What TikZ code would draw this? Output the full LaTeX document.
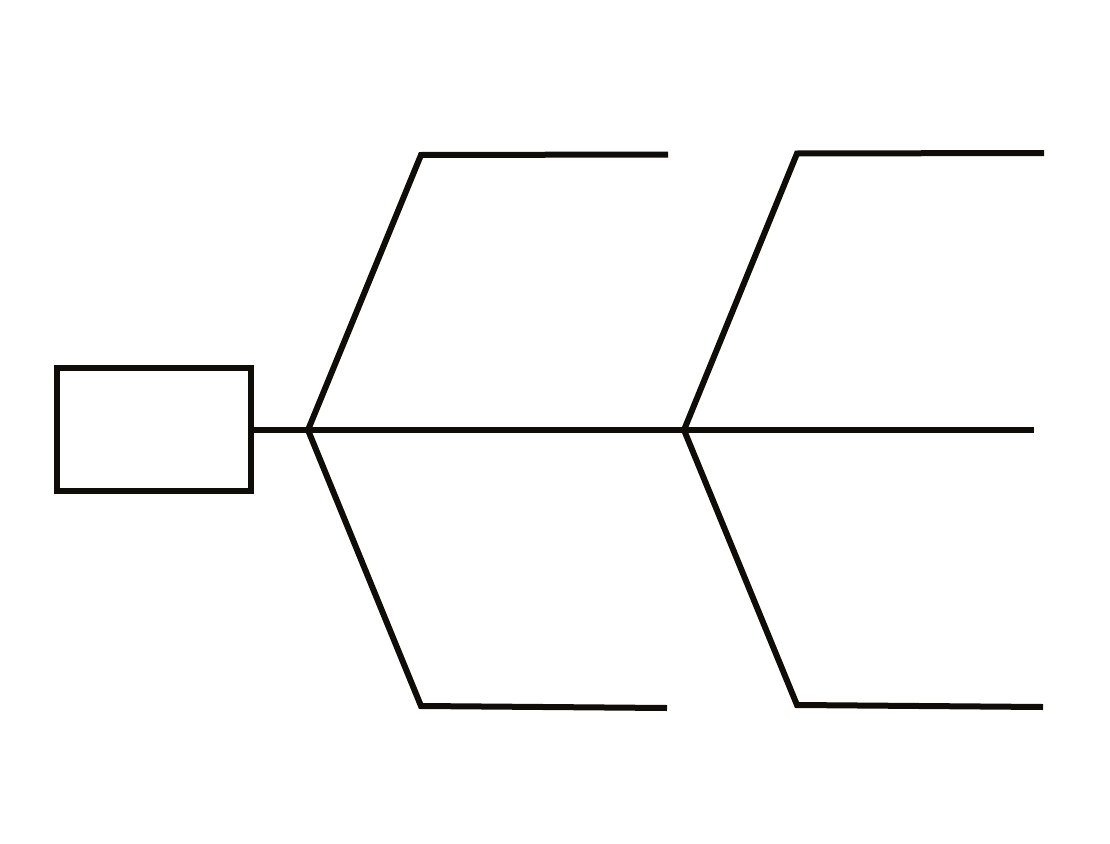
\documentclass[tikz,border=0pt]{standalone}
\definecolor{ink}{RGB}{16,12,8}
\begin{document}
\begin{tikzpicture}[x=1pt,y=-1pt,
  bone/.style={draw=ink,line width=6pt,line join=miter},
  headbox/.style={draw=ink,line width=6.5pt,minimum width=194pt,minimum height=123pt,inner sep=0pt,outer sep=0pt}]
\useasboundingbox (0,0) rectangle (1110,843);
\node[headbox] (head) at (154,429.5) {};
\coordinate (j1) at (308,430);
\coordinate (j2) at (684,430);
\coordinate (tail) at (1034,430);
\coordinate (u1) at (421,155);
\coordinate (u1e) at (668,154.5);
\coordinate (l1) at (421,706);
\coordinate (l1e) at (667,708);
\coordinate (u2) at (797,153.5);
\coordinate (u2e) at (1044,153);
\coordinate (l2) at (797,705);
\coordinate (l2e) at (1043,707);
\draw[bone] (head.east |- j1) -- (j1) -- (j2) -- (tail);
\draw[bone] (j1) -- (u1) -- (u1e);
\draw[bone] (j1) -- (l1) -- (l1e);
\draw[bone] (j2) -- (u2) -- (u2e);
\draw[bone] (j2) -- (l2) -- (l2e);
\end{tikzpicture}
\end{document}
